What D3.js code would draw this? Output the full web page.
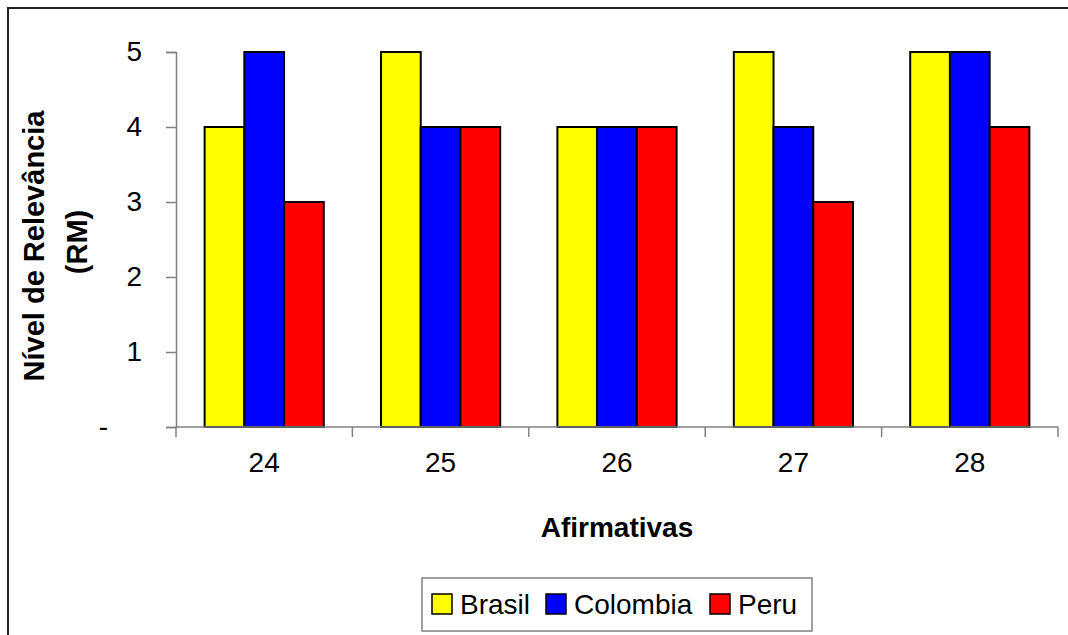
<!DOCTYPE html>
<html>
<head>
<meta charset="utf-8">
<script src="https://cdn.jsdelivr.net/npm/d3@7"></script>
<style>
  body { margin: 0; background: #fff; }
  svg { display: block; font-family: Arial, "Liberation Sans", sans-serif; }
</style>
</head>
<body>
<div id="chart"></div>
<script>
var categories = ["24", "25", "26", "27", "28"];
var series = ["Brasil", "Colombia", "Peru"];
var colors = ["#ffff00", "#0000ff", "#ff0000"];
var brasil = [4, 5, 4, 5, 5];
var colombia = [5, 4, 4, 4, 5];
var peru = [3, 4, 4, 3, 4];
var yTicks = [0, 1, 2, 3, 4, 5];

var values = [brasil, colombia, peru];

var width = 1068, height = 635;
var plot = { left: 176, right: 1058, top: 52, bottom: 427 };

var svg = d3.select("#chart").append("svg")
    .attr("width", width)
    .attr("height", height);

// outer chart border (right and bottom edges fall outside the picture)
svg.append("rect")
    .attr("x", 8).attr("y", 8)
    .attr("width", width).attr("height", height)
    .attr("fill", "none")
    .attr("stroke", "#222")
    .attr("stroke-width", 2);

var x = d3.scaleBand()
    .domain(categories)
    .range([plot.left, plot.right])
    .padding(0);

var x1 = d3.scaleBand()
    .domain(series)
    .range([0, x.bandwidth()])
    .paddingInner(0)
    .paddingOuter(0.72);

var y = d3.scaleLinear()
    .domain([0, 5])
    .range([plot.bottom, plot.top]);

var color = d3.scaleOrdinal().domain(series).range(colors);

// bars
var rows = [];
categories.forEach(function(c, i) {
    series.forEach(function(s, j) {
        rows.push({ cat: c, series: s, value: values[j][i] });
    });
});

svg.append("g").selectAll("rect")
    .data(rows)
    .enter()
    .append("rect")
    .attr("x", function(d) { return x(d.cat) + x1(d.series); })
    .attr("width", x1.bandwidth())
    .attr("y", function(d) { return y(d.value); })
    .attr("height", function(d) { return y(0) - y(d.value); })
    .attr("fill", function(d) { return color(d.series); })
    .attr("stroke", "#000")
    .attr("stroke-width", 2);

// y axis
var yAxis = d3.axisLeft(y)
    .tickValues(yTicks)
    .tickSize(10)
    .tickPadding(24)
    .tickFormat(function(d) { return d === 0 ? "-" : d; });

var gy = svg.append("g")
    .attr("transform", "translate(" + plot.left + ",0)")
    .call(yAxis);
gy.select(".domain").attr("stroke", "#808080").attr("stroke-width", 1.5);
gy.selectAll(".tick line").attr("stroke", "#808080").attr("stroke-width", 1.5);
gy.selectAll(".tick text")
    .attr("font-size", "28px")
    .attr("fill", "#000")
    .attr("font-family", "Arial, 'Liberation Sans', sans-serif")
    .attr("dx", function(d) { return d === 0 ? -34 : 0; });

// x axis: labels at band centres, ticks on band boundaries
var xAxis = d3.axisBottom(x).tickSize(0).tickPadding(25);
var gx = svg.append("g")
    .attr("transform", "translate(0," + plot.bottom + ")")
    .call(xAxis);
gx.select(".domain").remove();
gx.selectAll(".tick text")
    .attr("font-size", "28px")
    .attr("fill", "#000")
    .attr("font-family", "Arial, 'Liberation Sans', sans-serif");

gx.append("line")
    .attr("x1", plot.left).attr("x2", plot.right)
    .attr("y1", 0).attr("y2", 0)
    .attr("stroke", "#808080").attr("stroke-width", 1.5);

var bounds = categories.map(function(c) { return x(c); }).concat([x.range()[1]]);
gx.selectAll(".bound")
    .data(bounds)
    .enter()
    .append("line")
    .attr("class", "bound")
    .attr("x1", function(d) { return d; }).attr("x2", function(d) { return d; })
    .attr("y1", 0).attr("y2", 10)
    .attr("stroke", "#808080").attr("stroke-width", 1.5);

// axis titles
svg.append("text")
    .attr("x", 617).attr("y", 537)
    .attr("text-anchor", "middle")
    .attr("font-size", "28px")
    .attr("font-weight", "bold")
    .text("Afirmativas");

svg.append("text")
    .attr("transform", "translate(44,246) rotate(-90)")
    .attr("text-anchor", "middle")
    .attr("font-size", "29px")
    .attr("font-weight", "bold")
    .text("Nível de Relevância");

svg.append("text")
    .attr("transform", "translate(87,242) rotate(-90)")
    .attr("text-anchor", "middle")
    .attr("font-size", "29px")
    .attr("font-weight", "bold")
    .text("(RM)");

// legend
var legend = svg.append("g").attr("class", "legend");
legend.append("rect")
    .attr("x", 422).attr("y", 578)
    .attr("width", 390).attr("height", 53)
    .attr("fill", "#fff")
    .attr("stroke", "#808080")
    .attr("stroke-width", 1.5);

var legendX = [432, 546, 710];
var items = legend.selectAll(".item")
    .data(series)
    .enter()
    .append("g")
    .attr("class", "item")
    .attr("transform", function(d, i) { return "translate(" + legendX[i] + ",0)"; });

items.append("rect")
    .attr("x", 0).attr("y", 594)
    .attr("width", 20).attr("height", 20)
    .attr("fill", function(d) { return color(d); })
    .attr("stroke", "#000")
    .attr("stroke-width", 1.5);

items.append("text")
    .attr("x", 28).attr("y", 614)
    .attr("font-size", "28px")
    .text(function(d) { return d; });
</script>
</body>
</html>
